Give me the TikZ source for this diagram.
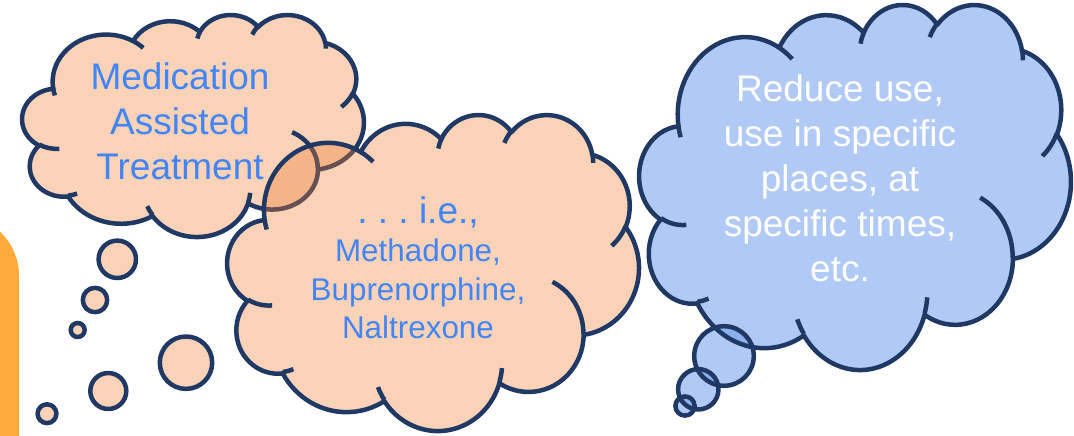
\documentclass[tikz,border=0pt]{standalone}
\usepackage{fontspec}
\setmainfont{Liberation Sans}
\usepackage{tikz}
\usetikzlibrary{calc}
\usepackage{xcolor}
\definecolor{cloudnavy}{HTML}{1F3864}
\definecolor{cloudorange}{HTML}{ED7D31}
\definecolor{cloudblue}{HTML}{6496EB}
\definecolor{textblue}{HTML}{4285F4}
\definecolor{barorange}{HTML}{FFAA3C}
\tikzset{
  outline/.style={draw=cloudnavy, line width=4.5pt, line join=round},
  peach/.style={fill=cloudorange, fill opacity=0.35},
  sky/.style={fill=cloudblue, fill opacity=0.5},
  bigtext/.style={align=center, inner sep=0pt, font=\fontsize{37}{45}\selectfont},
  smalltext/.style={align=center, inner sep=0pt, font=\fontsize{31.4}{38.5}\selectfont}
}
% arc of the cloud: x radius, y radius, start and sweep (seen angles)
\newcommand\cloudarc[4]{let \n1={atan2((#1)*sin(#3),(#2)*cos(#3))},
  \n2={atan2((#1)*sin((#3)+(#4)),(#2)*cos((#3)+(#4)))},
  \n3={mod((\n2)-(\n1)+720,360)} in
  arc[x radius=#1, y radius=#2, start angle=\n1, delta angle=\n3]}
% cloud in a 432 x 432 box
\newcommand\puffpath{(39,143.7)
  \cloudarc{67.53}{91.90}{-190.4875}{123.7805}
  \cloudarc{53.33}{72.67}{-144.1024}{89.9452}
  \cloudarc{43.65}{59.45}{-145.8079}{99.7230}
  \cloudarc{48.57}{65.95}{-130.9861}{117.2417}
  \cloudarc{53.33}{72.73}{-78.7089}{109.0269}
  \cloudarc{67.75}{92.20}{-46.2673}{130.2690}
  \cloudarc{57.85}{78.67}{0.6250}{114.0333}
  \cloudarc{67.52}{92.15}{22.4516}{115.1726}
  \cloudarc{77.20}{105.43}{66.2426}{75.7110}
  \cloudarc{43.60}{59.18}{-274.9421}{146.7356}
  \cloudarc{43.45}{59.45}{-246.8285}{152.5189}
  -- cycle}
\newcommand\puffcreases{
  (46.93,261.77) \cloudarc{43.45}{59.45}{86.7420}{26.4295}
  (69.28,348.99) \cloudarc{43.60}{59.18}{73.6105}{11.4475}
  (164.78,390.90) \cloudarc{67.52}{92.15}{137.6242}{14.0811}
  (288.27,347.51) \cloudarc{67.52}{92.15}{6.4533}{15.9984}
  (341.29,229.54) \cloudarc{57.85}{78.67}{-70.2924}{70.9174}
  (417.98,153.54) \cloudarc{53.33}{72.73}{30.3180}{27.7515}
  (383.24,54.26) \cloudarc{48.57}{65.95}{-13.7443}{14.8589}
  (290.78,39.52) \cloudarc{48.57}{65.95}{-149.1815}{18.1954}
  (221.41,47.20) \cloudarc{43.65}{59.45}{-163.4943}{17.6864}
  (140.00,51.92) \cloudarc{67.53}{91.90}{-66.7070}{12.3194}
  (41.27,157.89) \cloudarc{67.53}{91.90}{157.6544}{11.8582}}

\begin{document}
\begin{tikzpicture}[x=1pt, y=-1pt]
\useasboundingbox (0,0) rectangle (1074,436);
% bar at the left edge
\fill[barorange, rounded corners=60pt] (-120,500) rectangle (19,215.5);
% first cloud
\begin{scope}[shift={(22.3,14.3)}, x=0.7906pt, y=-0.5138pt]
  \path[peach, outline] \puffpath;
  \draw[outline] \puffcreases;
\end{scope}
\draw[peach, outline] (117.3,259.3) circle[radius=18.7];
\draw[peach, outline] (95,300) circle[radius=12.2];
\draw[peach, outline] (77.7,330) circle[radius=7];
% second cloud
\begin{scope}[shift={(227.4,114)}, x=0.9524pt, y=-0.7313pt]
  \path[peach, outline] \puffpath;
  \draw[outline] \puffcreases;
\end{scope}
\draw[peach, outline] (186,362.7) circle[radius=26.2];
\draw[peach, outline] (108.3,391) circle[radius=18];
\draw[peach, outline] (47,413.7) circle[radius=9.4];
% third cloud, fills first
\path[sky] (724,356) circle[radius=29.8];
\path[sky] (698.3,389.3) circle[radius=20.2];
\path[sky] (685,406) circle[radius=9.6];
\begin{scope}[shift={(639.4,3.8)}, x=0.9986pt, y=-0.8447pt]
  \path[sky] \puffpath;
\end{scope}
\draw[outline] (724,356) circle[radius=29.8];
\draw[outline] (698.3,389.3) circle[radius=20.2];
\draw[outline] (685,406) circle[radius=9.6];
\begin{scope}[shift={(639.4,3.8)}, x=0.9986pt, y=-0.8447pt]
  \draw[outline] \puffpath;
  \draw[outline] \puffcreases;
\end{scope}
% texts
\node[bigtext, text=textblue] (mat) at (180,121.5) {Medication\\Assisted\\Treatment};
\node[bigtext, text=textblue, anchor=base] (ie) at (418,223) {.\ .\ .\ i.e.,};
\node[smalltext, text=textblue] (drugs) at (418,289) {Methadone,\\Buprenorphine,\\Naltrexone};
\node[bigtext, text=white] (reduce) at (840,178.5) {Reduce use,\\use in specific\\places, at\\specific times,\\etc.};
\end{tikzpicture}
\end{document}
